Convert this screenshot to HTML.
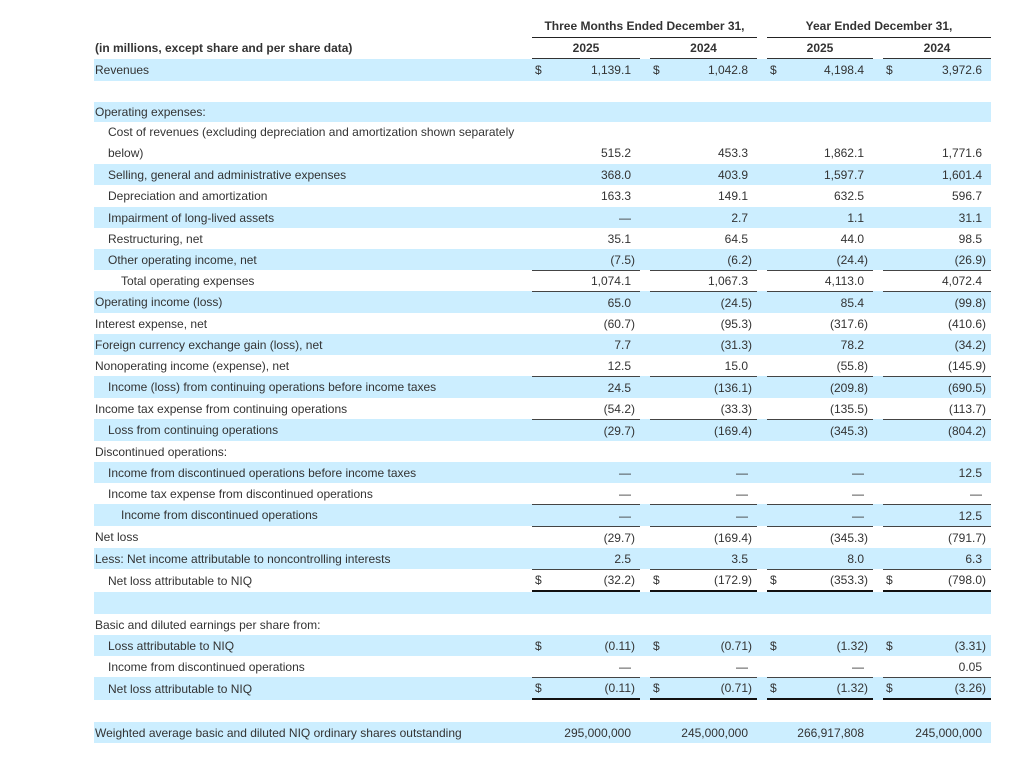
<!DOCTYPE html>
<html>
<head>
<meta charset="utf-8">
<style>
html,body{margin:0;padding:0}
body{width:1023px;height:762px;background:#fff;font-family:"Liberation Sans",Arial,sans-serif;font-size:12px;color:#333;position:relative;overflow:hidden}
.h{position:absolute;text-align:center;font-weight:bold;box-sizing:border-box;white-space:nowrap}
.r{position:absolute;left:94px;width:897px}
.b{background:#cceeff}
.l{position:absolute;left:1px;top:0;bottom:0;display:flex;align-items:center;white-space:nowrap}
.l1{left:14px}
.l2{left:27px}
.c{position:absolute;top:0;bottom:0;box-sizing:border-box;display:flex;align-items:center;justify-content:flex-end;padding-right:9px;white-space:nowrap}
.c.n{padding-right:5px}
.c i{font-style:normal;position:absolute;left:3px;top:0;bottom:0;display:flex;align-items:center}
.g1{left:438px;width:108px}
.g2{left:556px;width:107px}
.g3{left:673px;width:106px}
.g4{left:789px;width:108px}
.t .c{border-top:1px solid #444}
.bb .c{border-bottom:2px solid #111}
.cost .l{display:block;line-height:21px}
.cost .c{align-items:flex-end;line-height:21px}
.cost .c i{align-items:flex-end}
</style>
</head>
<body>

<div class="h" style="top:15px;left:532px;width:225px;height:23px;line-height:22px;border-bottom:1px solid #222">Three Months Ended December 31,</div>
<div class="h" style="top:15px;left:767px;width:224px;height:23px;line-height:22px;border-bottom:1px solid #222">Year Ended December 31,</div>

<div class="h" style="top:38px;left:94px;height:20px;line-height:20px;text-align:left;padding-left:1px">(in millions, except share and per share data)</div>
<div class="h" style="top:38px;left:532px;width:108px;height:21px;line-height:20px;border-bottom:1px solid #333">2025</div>
<div class="h" style="top:38px;left:650px;width:107px;height:21px;line-height:20px;border-bottom:1px solid #333">2024</div>
<div class="h" style="top:38px;left:767px;width:106px;height:21px;line-height:20px;border-bottom:1px solid #333">2025</div>
<div class="h" style="top:38px;left:883px;width:108px;height:21px;line-height:20px;border-bottom:1px solid #333">2024</div>

<div class="r b" style="top:59px;height:22px"><span class="l">Revenues</span>
<span class="c g1"><i>$</i>1,139.1</span><span class="c g2"><i>$</i>1,042.8</span><span class="c g3"><i>$</i>4,198.4</span><span class="c g4"><i>$</i>3,972.6</span></div>

<div class="r" style="top:81px;height:21px"></div>

<div class="r b" style="top:102px;height:20px"><span class="l">Operating expenses:</span></div>

<div class="r cost" style="top:122px;height:42px"><span class="l l1">Cost of revenues (excluding depreciation and amortization shown separately<br>below)</span>
<span class="c g1">515.2</span><span class="c g2">453.3</span><span class="c g3">1,862.1</span><span class="c g4">1,771.6</span></div>

<div class="r b" style="top:164px;height:21px"><span class="l l1">Selling, general and administrative expenses</span>
<span class="c g1">368.0</span><span class="c g2">403.9</span><span class="c g3">1,597.7</span><span class="c g4">1,601.4</span></div>

<div class="r" style="top:185px;height:22px"><span class="l l1">Depreciation and amortization</span>
<span class="c g1">163.3</span><span class="c g2">149.1</span><span class="c g3">632.5</span><span class="c g4">596.7</span></div>

<div class="r b" style="top:207px;height:21px"><span class="l l1">Impairment of long-lived assets</span>
<span class="c g1">—</span><span class="c g2">2.7</span><span class="c g3">1.1</span><span class="c g4">31.1</span></div>

<div class="r" style="top:228px;height:21px"><span class="l l1">Restructuring, net</span>
<span class="c g1">35.1</span><span class="c g2">64.5</span><span class="c g3">44.0</span><span class="c g4">98.5</span></div>

<div class="r b" style="top:249px;height:21px"><span class="l l1">Other operating income, net</span>
<span class="c g1 n">(7.5)</span><span class="c g2 n">(6.2)</span><span class="c g3 n">(24.4)</span><span class="c g4 n">(26.9)</span></div>

<div class="r t" style="top:270px;height:21px"><span class="l l2">Total operating expenses</span>
<span class="c g1">1,074.1</span><span class="c g2">1,067.3</span><span class="c g3">4,113.0</span><span class="c g4">4,072.4</span></div>

<div class="r b t" style="top:291px;height:22px"><span class="l">Operating income (loss)</span>
<span class="c g1">65.0</span><span class="c g2 n">(24.5)</span><span class="c g3">85.4</span><span class="c g4 n">(99.8)</span></div>

<div class="r" style="top:313px;height:21px"><span class="l">Interest expense, net</span>
<span class="c g1 n">(60.7)</span><span class="c g2 n">(95.3)</span><span class="c g3 n">(317.6)</span><span class="c g4 n">(410.6)</span></div>

<div class="r b" style="top:334px;height:21px"><span class="l">Foreign currency exchange gain (loss), net</span>
<span class="c g1">7.7</span><span class="c g2 n">(31.3)</span><span class="c g3">78.2</span><span class="c g4 n">(34.2)</span></div>

<div class="r" style="top:355px;height:21px"><span class="l">Nonoperating income (expense), net</span>
<span class="c g1">12.5</span><span class="c g2">15.0</span><span class="c g3 n">(55.8)</span><span class="c g4 n">(145.9)</span></div>

<div class="r b t" style="top:376px;height:22px"><span class="l l1">Income (loss) from continuing operations before income taxes</span>
<span class="c g1">24.5</span><span class="c g2 n">(136.1)</span><span class="c g3 n">(209.8)</span><span class="c g4 n">(690.5)</span></div>

<div class="r" style="top:398px;height:21px"><span class="l">Income tax expense from continuing operations</span>
<span class="c g1 n">(54.2)</span><span class="c g2 n">(33.3)</span><span class="c g3 n">(135.5)</span><span class="c g4 n">(113.7)</span></div>

<div class="r b t" style="top:419px;height:22px"><span class="l l1">Loss from continuing operations</span>
<span class="c g1 n">(29.7)</span><span class="c g2 n">(169.4)</span><span class="c g3 n">(345.3)</span><span class="c g4 n">(804.2)</span></div>

<div class="r" style="top:441px;height:21px"><span class="l">Discontinued operations:</span></div>

<div class="r b" style="top:462px;height:21px"><span class="l l1">Income from discontinued operations before income taxes</span>
<span class="c g1">—</span><span class="c g2">—</span><span class="c g3">—</span><span class="c g4">12.5</span></div>

<div class="r" style="top:483px;height:21px"><span class="l l1">Income tax expense from discontinued operations</span>
<span class="c g1">—</span><span class="c g2">—</span><span class="c g3">—</span><span class="c g4">—</span></div>

<div class="r b t" style="top:504px;height:22px"><span class="l l2">Income from discontinued operations</span>
<span class="c g1">—</span><span class="c g2">—</span><span class="c g3">—</span><span class="c g4">12.5</span></div>

<div class="r t" style="top:526px;height:22px"><span class="l">Net loss</span>
<span class="c g1 n">(29.7)</span><span class="c g2 n">(169.4)</span><span class="c g3 n">(345.3)</span><span class="c g4 n">(791.7)</span></div>

<div class="r b" style="top:548px;height:21px"><span class="l">Less: Net income attributable to noncontrolling interests</span>
<span class="c g1">2.5</span><span class="c g2">3.5</span><span class="c g3">8.0</span><span class="c g4">6.3</span></div>

<div class="r t bb" style="top:569px;height:23px"><span class="l l1">Net loss attributable to NIQ</span>
<span class="c g1 n"><i>$</i>(32.2)</span><span class="c g2 n"><i>$</i>(172.9)</span><span class="c g3 n"><i>$</i>(353.3)</span><span class="c g4 n"><i>$</i>(798.0)</span></div>

<div class="r b" style="top:592px;height:22px"></div>

<div class="r" style="top:614px;height:21px"><span class="l">Basic and diluted earnings per share from:</span></div>

<div class="r b" style="top:635px;height:21px"><span class="l l1">Loss attributable to NIQ</span>
<span class="c g1 n"><i>$</i>(0.11)</span><span class="c g2 n"><i>$</i>(0.71)</span><span class="c g3 n"><i>$</i>(1.32)</span><span class="c g4 n"><i>$</i>(3.31)</span></div>

<div class="r" style="top:656px;height:21px"><span class="l l1">Income from discontinued operations</span>
<span class="c g1">—</span><span class="c g2">—</span><span class="c g3">—</span><span class="c g4">0.05</span></div>

<div class="r b t bb" style="top:677px;height:23px"><span class="l l1">Net loss attributable to NIQ</span>
<span class="c g1 n"><i>$</i>(0.11)</span><span class="c g2 n"><i>$</i>(0.71)</span><span class="c g3 n"><i>$</i>(1.32)</span><span class="c g4 n"><i>$</i>(3.26)</span></div>

<div class="r" style="top:700px;height:22px"></div>

<div class="r b" style="top:722px;height:21px"><span class="l">Weighted average basic and diluted NIQ ordinary shares outstanding</span>
<span class="c g1">295,000,000</span><span class="c g2">245,000,000</span><span class="c g3">266,917,808</span><span class="c g4">245,000,000</span></div>

</body>
</html>
